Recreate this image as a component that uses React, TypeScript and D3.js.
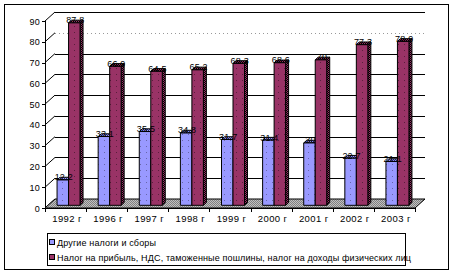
import React from "react";
import * as d3 from "d3";

const categories = ["1992 г", "1996 г", "1997 г", "1998 г", "1999 г", "2000 г", "2001 г", "2002 г", "2003 г"];
const otherTaxes = [12.2, 33.1, 35.5, 34.8, 31.7, 31.4, 30, 22.7, 21.1];
const mainTaxes = [87.8, 66.9, 64.5, 65.2, 68.3, 68.6, 70, 77.3, 78.9];
const yTicks = [0, 10, 20, 30, 40, 50, 60, 70, 80, 90];
const seriesNames = [
  "Другие налоги и сборы",
  "Налог на прибыль, НДС, таможенные пошлины, налог на доходы физических лиц",
];

const W = 453;
const H = 274;
const FONT = "'Liberation Sans', Arial, sans-serif";

export default function App() {
  const x0 = 45, x1 = 415, yBase = 208, yTop = 21;
  const DX = 10, DY = -9;
  const bx0 = 0.3, bx1 = 0.6; // bar depth fractions
  const x = d3.scaleBand<string>().domain(categories).range([x0, x1]);
  const y = d3.scaleLinear().domain([0, 90]).range([yBase, yTop]);
  const bw = 11.5;
  const fdx = DX * bx0, fdy = DY * bx0;
  const sdx = DX * (bx1 - bx0), sdy = DY * (bx1 - bx0);

  const colors = ["#9999FF", "#993366"];
  const fronts = ["url(#dotB)", "url(#dotR)"];
  const sides = ["url(#chkB)", "url(#chkR)"];

  const bar = (cat: string, si: number, v: number, key: string) => {
    const cx = (x(cat) as number) + x.bandwidth() / 2 + fdx;
    const left = cx - bw + si * bw;
    const right = left + bw;
    const bottom = yBase + fdy;
    const top = y(v) + fdy;
    const front = `M${left},${bottom}L${right},${bottom}L${right},${top}L${left},${top}Z`;
    const side = `M${right},${bottom}L${right + sdx},${bottom + sdy}L${right + sdx},${top + sdy}L${right},${top}Z`;
    const topF = `M${left},${top}L${right},${top}L${right + sdx},${top + sdy}L${left + sdx},${top + sdy}Z`;
    return (
      <g key={key}>
        <path d={side} fill={sides[si]} stroke="#000" strokeWidth={1} />
        <path d={topF} fill={sides[si]} stroke="#000" strokeWidth={1} />
        <path d={front} fill={fronts[si]} stroke="#000" strokeWidth={1} />
      </g>
    );
  };

  const label = (cat: string, si: number, v: number, key: string) => {
    const cx = (x(cat) as number) + x.bandwidth() / 2 + fdx;
    const left = cx - bw + si * bw;
    return (
      <text key={key} x={left + bw / 2 + 1} y={y(v) + fdy + 0.5} textAnchor="middle" fontSize={9} letterSpacing={0.2} fontFamily={FONT} fill="#000">
        {String(v)}
      </text>
    );
  };

  return (
    <svg width={W} height={H} style={{ position: "absolute", left: 0, top: 0, background: "#fff" }}>
      <defs>
        <pattern id="dotR" width="6" height="6" patternUnits="userSpaceOnUse">
          <rect width="6" height="6" fill="#993366" />
          <rect x="2" y="2" width="1" height="1" fill="#5a1f3c" />
        </pattern>
        <pattern id="dotB" width="6" height="6" patternUnits="userSpaceOnUse">
          <rect width="6" height="6" fill="#9999FF" />
          <rect x="2" y="2" width="1" height="1" fill="#6666aa" />
        </pattern>
        <pattern id="chkR" width="2" height="2" patternUnits="userSpaceOnUse">
          <rect width="2" height="2" fill="#993366" />
          <rect width="1" height="1" fill="#000" />
          <rect x="1" y="1" width="1" height="1" fill="#000" />
        </pattern>
        <pattern id="chkB" width="2" height="2" patternUnits="userSpaceOnUse">
          <rect width="2" height="2" fill="#9999FF" />
          <rect width="1" height="1" fill="#333366" />
          <rect x="1" y="1" width="1" height="1" fill="#333366" />
        </pattern>
        <pattern id="chkG" width="2" height="2" patternUnits="userSpaceOnUse">
          <rect width="2" height="2" fill="#c0c0c0" />
          <rect width="1" height="1" fill="#808080" />
          <rect x="1" y="1" width="1" height="1" fill="#808080" />
        </pattern>
      </defs>
      <rect x={4.5} y={4.5} width={444} height={265} fill="#fff" stroke="#000" strokeWidth={1} />

      {/* back wall gridlines and left wall */}
      {yTicks.map((t) => (
        <g key={"g" + t}>
          {t > 0 && (
            <line
              x1={x0 + DX}
              x2={x1 + DX}
              y1={Math.round(y(t) + DY) + 0.5}
              y2={Math.round(y(t) + DY) + 0.5}
              stroke={t === 80 ? "#999" : "#000"}
              strokeDasharray={t === 80 ? "1,3" : undefined}
            />
          )}
          <line x1={x0} y1={y(t)} x2={x0 + DX} y2={y(t) + DY} stroke="#000" />
          <line x1={x0 - 3} x2={x0} y1={Math.round(y(t)) + 0.5} y2={Math.round(y(t)) + 0.5} stroke="#000" />
          <text x={40} y={y(t) + 3.5} textAnchor="end" fontSize={9} letterSpacing={0.3} fontFamily={FONT} fill="#000">
            {t}
          </text>
        </g>
      ))}

      {/* floor */}
      <path
        d={`M${x0},${yBase}L${x1},${yBase}L${x1 + DX},${yBase + DY}L${x0 + DX},${yBase + DY}Z`}
        fill="url(#chkG)"
        stroke="#000"
      />

      {/* bars */}
      {categories.map((c, i) => (
        <g key={"b" + i}>
          {bar(c, 0, otherTaxes[i], "o" + i)}
          {bar(c, 1, mainTaxes[i], "m" + i)}
        </g>
      ))}
      {categories.map((c, i) => (
        <g key={"l" + i}>
          {label(c, 0, otherTaxes[i], "lo" + i)}
          {label(c, 1, mainTaxes[i], "lm" + i)}
        </g>
      ))}

      {/* axes */}
      <line x1={x0 + 0.5} x2={x0 + 0.5} y1={yTop} y2={yBase} stroke="#000" />
      <line x1={x0} x2={x1} y1={yBase + 0.5} y2={yBase + 0.5} stroke="#000" />
      {d3.range(categories.length + 1).map((i) => {
        const xx = Math.round(x0 + x.step() * i) + 0.5;
        return <line key={"xt" + i} x1={xx} x2={xx} y1={yBase} y2={yBase + 4} stroke="#000" />;
      })}
      {categories.map((c) => (
        <text key={"xl" + c} x={(x(c) as number) + x.bandwidth() / 2 + 1.5} y={222} textAnchor="middle" fontSize={9.5} letterSpacing={0.4} fontFamily={FONT} fill="#000">
          {c}
        </text>
      ))}

      {/* legend */}
      <rect x={47.5} y={233.5} width={358} height={32} fill="#fff" stroke="#000" />
      {seriesNames.map((n, i) => (
        <g key={"lg" + i}>
          <rect x={49.5} y={239.5 + i * 15} width={5} height={5} fill={colors[i]} stroke="#000" />
          <text x={57} y={245.5 + i * 15} fontSize={9} letterSpacing={0.14} fontFamily={FONT} fill="#000">
            {n}
          </text>
        </g>
      ))}
    </svg>
  );
}
